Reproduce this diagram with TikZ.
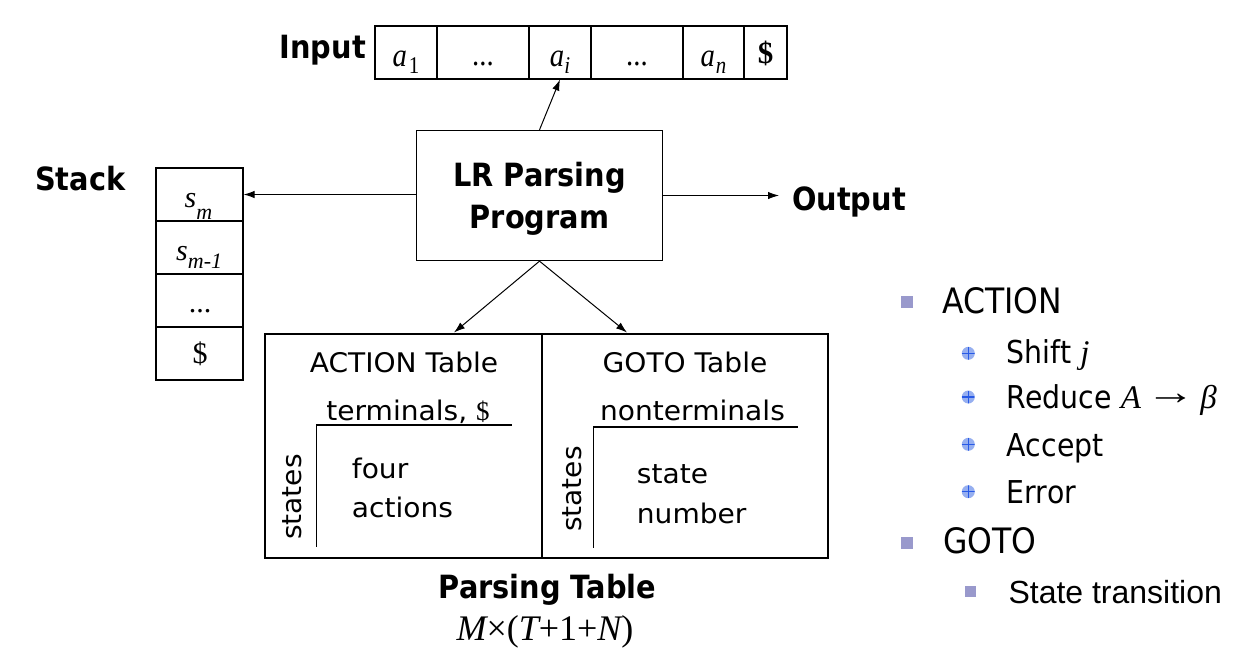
\documentclass[tikz,border=0pt]{standalone}
\usepackage{fontspec}
\setmainfont{DejaVu Sans}
\newfontfamily\tahoma{DejaVu Sans}[FakeStretch=0.9]
\newfontfamily\tabf{DejaVu Sans}[FakeStretch=1.04]
\newfontfamily\lserif{Liberation Serif}
\newfontfamily\serifn{Liberation Serif}[FakeStretch=0.87]
\newfontfamily\arial{Liberation Sans}
\usetikzlibrary{arrows.meta}
\definecolor{bulgray}{RGB}{153,153,204}
\definecolor{bulblue}{RGB}{40,90,230}
\definecolor{bulfill}{RGB}{150,175,240}
\tikzset{
  arr/.style={-{Latex[length=11pt,width=7.5pt]}, line width=1pt},
  cellbox/.style={draw, line width=1.1pt, inner sep=0, minimum height=53},
  progbox/.style={draw, line width=1.3pt, inner sep=0, minimum width=246, minimum height=130},
  tabbox/.style={draw, line width=2.2pt, inner sep=0, minimum height=224},
  rulel/.style={line width=1.3pt},
  blbl/.style={inner sep=0, font=\tahoma\bfseries\fontsize{32}{38}\selectfont},
  tt/.style={inner sep=0, font=\tabf\fontsize{27}{32}\selectfont},
  tapet/.style={inner sep=0, font=\serifn\fontsize{33}{40}\selectfont},
  stackt/.style={inner sep=0, font=\lserif\fontsize{30}{36}\selectfont},
  sqb/.style={fill=bulgray, minimum size=12, inner sep=0},
  subb/.style={circle, fill=bulfill, minimum size=13, inner sep=0,
    path picture={\draw[bulblue, line width=1.4pt]
      (path picture bounding box.north) -- (path picture bounding box.south)
      (path picture bounding box.west) -- (path picture bounding box.east);}},
  rt/.style={inner sep=0, font=\tahoma\fontsize{35}{40}\selectfont},
  rst/.style={inner sep=0, font=\tahoma\fontsize{31.5}{36}\selectfont},
}
\begin{document}
\begin{tikzpicture}[x=1pt,y=-1pt]
\useasboundingbox (0,0) rectangle (1258,654);
\fill[white] (0,0) rectangle (1258,654);

% ---------- Input tape ----------
\node[blbl, anchor=base east] (inlbl) at (366,58) {Input};
\node[cellbox, minimum width=62] (a1) at (406,52.5) {};
\node[cellbox, minimum width=92] (d1) at (483,52.5) {};
\node[cellbox, minimum width=62] (ai) at (560,52.5) {};
\node[cellbox, minimum width=92] (d2) at (637,52.5) {};
\node[cellbox, minimum width=61] (an) at (713.5,52.5) {};
\node[cellbox, minimum width=43] (dl) at (765.5,52.5) {};
\node[tapet, anchor=base] (ta1) at (406,66.7) {\itshape a\hspace{2pt}\upshape\raisebox{-6.3pt}{\fontsize{24}{24}\selectfont 1}};
\node[tapet, anchor=base] (td1) at (483,65) {...};
\node[tapet, anchor=base] (tai) at (560,66.7) {\itshape a\raisebox{-6.3pt}{\fontsize{24}{24}\selectfont i}};
\node[tapet, anchor=base] (td2) at (637,65) {...};
\node[tapet, anchor=base] (tan) at (713.5,66.7) {\itshape a\hspace{1pt}\raisebox{-6.3pt}{\fontsize{24}{24}\selectfont n}};
\node[inner sep=0, font=\lserif\bfseries\fontsize{31}{36}\selectfont] (tdl) at (765.5,53.5) {\$};

% ---------- Stack ----------
\node[blbl, anchor=base west] (stlbl) at (35,190) {Stack};
\node[cellbox, minimum width=87] (sm) at (199.5,194.5) {};
\node[cellbox, minimum width=87] (sm1) at (199.5,247.5) {};
\node[cellbox, minimum width=87] (sdots) at (199.5,300.5) {};
\node[cellbox, minimum width=87] (sdl) at (199.5,353.5) {};
\node[stackt, anchor=base west] (tsm) at (184.5,207) {\itshape s\raisebox{-12pt}{\fontsize{22}{22}\selectfont m}};
\node[stackt, anchor=base west] (tsm1) at (176,260) {\itshape s\raisebox{-8pt}{\fontsize{22}{22}\selectfont m-1}};
\node[stackt, anchor=base] (tsd) at (200,312) {...};
\node[stackt] (tsdl) at (200,353.5) {\$};

% ---------- Program ----------
\node[progbox] (prog) at (539.5,195.5) {};
\node[blbl, anchor=base] (p1) at (539.5,186.7) {LR Parsing};
\node[blbl, anchor=base] (p2) at (539.5,228.3) {Program};
\node[blbl, anchor=base west] (outlbl) at (792,210) {Output};
\coordinate (outpt) at (779,195.5);

\draw[arr] (prog.north) -- (ai.south);
\draw[arr] (prog.west |- sm.east) -- (sm.east);
\draw[arr] (prog.east) -- (outpt);

% ---------- Parsing table ----------
\node[tabbox, minimum width=277] (acttab) at (403.5,446) {};
\node[tabbox, minimum width=286] (gototab) at (685,446) {};
\coordinate (tA) at (454,332.5);
\coordinate (tG) at (627,332.5);
\draw[arr] (prog.south) -- (tA);
\draw[arr] (prog.south) -- (tG);

\node[tt, anchor=base] (acth) at (404,372) {ACTION Table};
\node[tt, anchor=base] (term) at (408,420) {terminals, {\lserif\$}};
\draw[rulel] (511.7,425) -| (316.7,547);
\node[tt, anchor=base, rotate=90] (st1) at (301,497) {states};
\node[tt, anchor=base west] (four) at (351.7,478) {four};
\node[tt, anchor=base west] (acts) at (351.7,517) {actions};

\node[tt, anchor=base] (gotoh) at (685,372) {GOTO Table};
\node[tt, anchor=base] (nont) at (692.5,420.7) {nonterminals};
\draw[rulel] (797.7,427) -| (593.3,548.3);
\node[tt, anchor=base, rotate=90] (st2) at (581.5,489) {states};
\node[tt, anchor=base west] (stt) at (636.7,483.3) {state};
\node[tt, anchor=base west] (num) at (636.7,523.3) {number};

\node[blbl, anchor=base] (ptab) at (547.5,598) {Parsing Table};
\node[inner sep=0, font=\lserif\fontsize{36}{40}\selectfont, anchor=base] (dims) at (545,640)
  {{\itshape M}×({\itshape T}+1+{\itshape N})};

% ---------- Right list ----------
\node[sqb] (b1) at (906.7,301.7) {};
\node[rt, anchor=base west] (l1) at (942,313) {ACTION};
\node[subb] (c1) at (968.3,353.3) {};
\node[rst, anchor=base west] (l11) at (1006.7,363) {Shift {\lserif\itshape\fontsize{33}{36}\selectfont j}};
\node[subb] (c2) at (968.3,397) {};
\node[rst, anchor=base west] (l12) at (1006.7,408.3) {Reduce {\lserif\fontsize{33}{36}\selectfont{\itshape A}\hspace{5pt}\raisebox{4pt}{\scalebox{1.5}[1.1]{→}}\hspace{5pt}{\itshape β}}};
\node[subb] (c3) at (968.3,444.3) {};
\node[rst, anchor=base west] (l13) at (1006.7,456.7) {Accept};
\node[subb] (c4) at (968.3,491.7) {};
\node[rst, anchor=base west] (l14) at (1006.7,503.3) {Error};
\node[sqb] (b2) at (906.7,543.3) {};
\node[rt, anchor=base west] (l2) at (943.3,553.3) {GOTO};
\node[sqb, minimum size=11] (b3) at (970,591.7) {};
\node[inner sep=0, font=\arial\fontsize{32}{36}\selectfont, anchor=base west] (l21) at (1008.3,603.3) {State transition};
\end{tikzpicture}
\end{document}
